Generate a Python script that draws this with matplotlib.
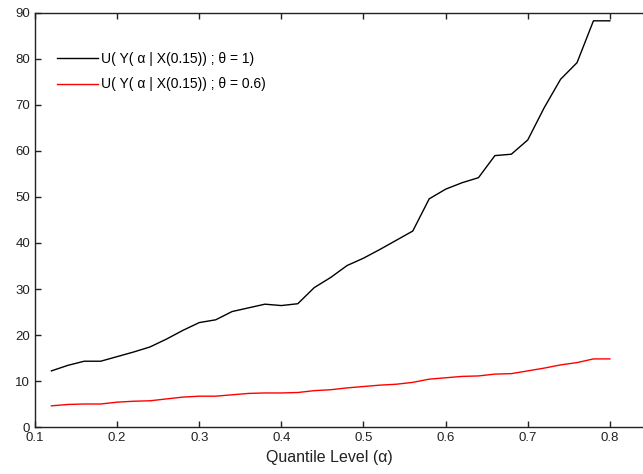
import matplotlib
matplotlib.use("Agg")
import matplotlib.pyplot as plt

alpha_levels = [0.12, 0.14, 0.16, 0.18, 0.20, 0.22, 0.24, 0.26, 0.28, 0.30,
                0.32, 0.34, 0.36, 0.38, 0.40, 0.42, 0.44, 0.46, 0.48, 0.50,
                0.52, 0.54, 0.56, 0.58, 0.60, 0.62, 0.64, 0.66, 0.68, 0.70,
                0.72, 0.74, 0.76, 0.78, 0.80]
u_theta1 = [12.2, 13.4, 14.3, 14.3, 15.3, 16.3, 17.4, 19.1, 21.0, 22.7,
            23.3, 25.1, 25.9, 26.7, 26.4, 26.8, 30.3, 32.5, 35.1, 36.7,
            38.6, 40.6, 42.6, 49.6, 51.7, 53.1, 54.2, 59.0, 59.3, 62.4,
            69.4, 75.6, 79.2, 88.3, 88.3]
u_theta06 = [4.6, 4.9, 5.0, 5.0, 5.4, 5.6, 5.7, 6.1, 6.5, 6.7,
             6.7, 7.0, 7.3, 7.4, 7.4, 7.5, 7.9, 8.1, 8.5, 8.8,
             9.1, 9.3, 9.7, 10.4, 10.7, 11.0, 11.1, 11.5, 11.6, 12.2,
             12.8, 13.5, 14.0, 14.8, 14.8]

labels = ["U( Y( α | X(0.15)) ; θ = 1)", "U( Y( α | X(0.15)) ; θ = 0.6)"]
xticks = [0.1, 0.2, 0.3, 0.4, 0.5, 0.6, 0.7, 0.8]
yticks = [0, 10, 20, 30, 40, 50, 60, 70, 80, 90]

plt.rcParams['font.family'] = ['Liberation Sans', 'DejaVu Sans']
W, H = 643, 474
fig = plt.figure(figsize=(W / 100, H / 100), dpi=100)
left, right, top, bottom = 35, 692, 13, 427
ax = fig.add_axes([left / W, 1 - bottom / H, (right - left) / W, (bottom - top) / H])

ax.plot(alpha_levels, u_theta1, color='black', lw=1.0, label=labels[0])
ax.plot(alpha_levels, u_theta06, color='red', lw=1.0, label=labels[1])

ax.set_xlim(0.1, 0.9)
ax.set_ylim(0, 90)
ax.set_xticks(xticks)
ax.set_xticklabels([f"{t:g}" for t in xticks])
ax.set_yticks(yticks)
ax.tick_params(direction='in', top=True, right=True, length=4, width=1,
               labelsize=9.5, colors='#222222', pad=3.5)
for s in ax.spines.values():
    s.set_linewidth(1.0)
    s.set_color('#222222')

ax.set_xlabel("Quantile Level (α)", fontsize=11.5, color='#222222')
ax.xaxis.set_label_coords((329 - left) / (right - left), -(450 - bottom) / (bottom - top))

leg = ax.legend(loc='upper left', bbox_to_anchor=(22 / (right - left), 1 - 39 / (bottom - top)),
                frameon=False, fontsize=10, handlelength=2.95, handletextpad=0.25,
                labelspacing=0.82, borderaxespad=0, borderpad=0)

fig.savefig("out.png", dpi=100)
